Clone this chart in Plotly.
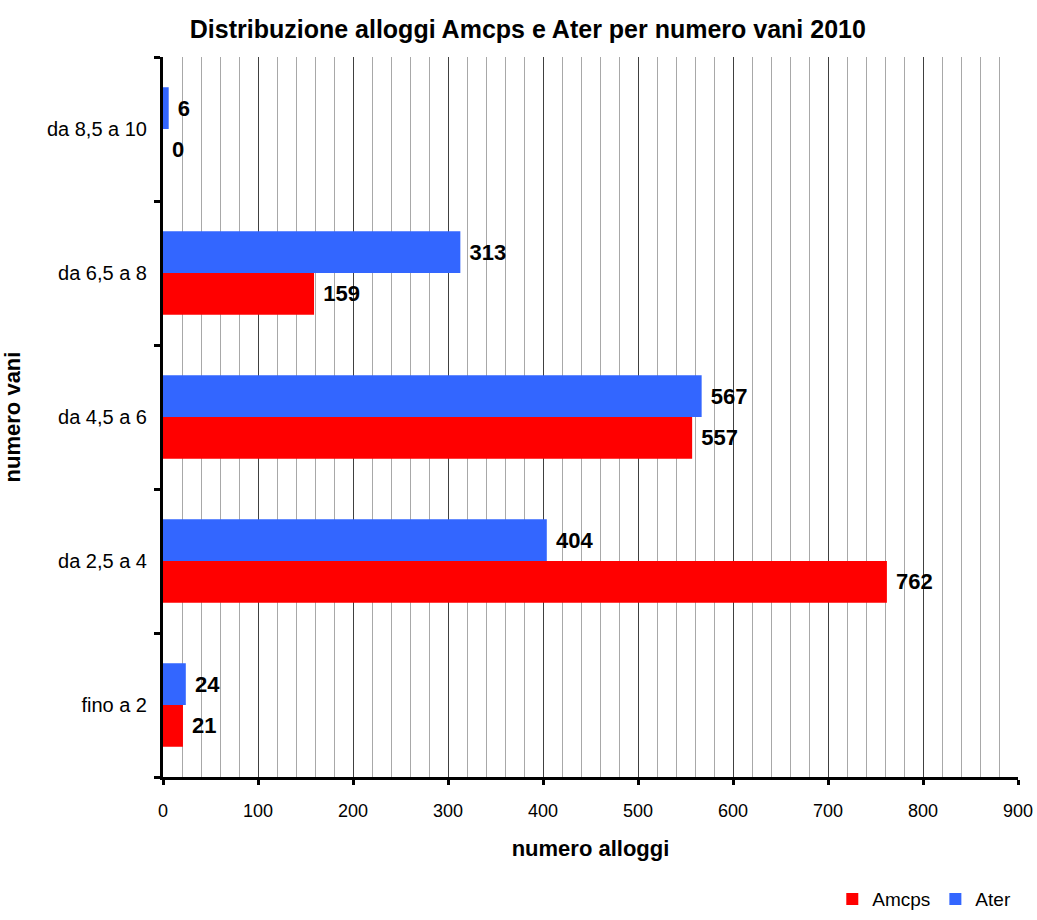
import plotly.graph_objects as go

categories = ["fino a 2", "da 2,5 a 4", "da 4,5 a 6", "da 6,5 a 8", "da 8,5 a 10"]
amcps = [21, 762, 557, 159, 0]
ater = [24, 404, 567, 313, 6]
x_ticks = [0, 100, 200, 300, 400, 500, 600, 700, 800, 900]

FONT = "Liberation Sans, Arial, sans-serif"

fig = go.Figure()
fig.add_trace(go.Bar(
    y=categories, x=amcps, name="Amcps", orientation="h",
    marker=dict(color="#FF0000", line=dict(width=0)),
    text=[" " + str(v) for v in amcps], textposition="outside", cliponaxis=False,
    textfont=dict(family=FONT, size=22, color="black", weight="bold"),
))
fig.add_trace(go.Bar(
    y=categories, x=ater, name="Ater", orientation="h",
    marker=dict(color="#3366FF", line=dict(width=0)),
    text=[" " + str(v) for v in ater], textposition="outside", cliponaxis=False,
    textfont=dict(family=FONT, size=22, color="black", weight="bold"),
))

fig.update_layout(
    width=1037, height=920,
    margin=dict(l=163, r=19, t=57, b=143, autoexpand=False),
    paper_bgcolor="white", plot_bgcolor="white",
    barmode="group", bargap=0.42, bargroupgap=0,
    font=dict(family=FONT, size=18, color="black"),
    title=dict(text="<b>Distribuzione alloggi Amcps e Ater per numero vani 2010</b>",
               x=0.509, xanchor="center", y=0.968, yanchor="middle",
               font=dict(family=FONT, size=25, color="black")),
    legend=dict(orientation="h", x=0.998, xanchor="right", y=-0.196, yanchor="bottom",
                font=dict(family=FONT, size=19), traceorder="normal",
                itemwidth=30, bgcolor="rgba(0,0,0,0)"),
    uniformtext=dict(mode=False),
)
fig.update_xaxes(
    range=[0, 900], tickvals=x_ticks, ticktext=[str(v) for v in x_ticks],
    showgrid=True, gridcolor="#404040", gridwidth=1,
    minor=dict(dtick=20, showgrid=True, gridcolor="#A8A8A8", gridwidth=1, ticks=""),
    showline=True, linecolor="black", linewidth=3,
    ticks="outside", ticklen=5, tickwidth=3, tickcolor="black",
    tickfont=dict(size=18), ticklabelstandoff=10,
    zeroline=False,
    title=dict(text="<b>numero alloggi</b>", font=dict(size=22), standoff=22),
)
fig.update_yaxes(
    categoryorder="array", categoryarray=categories,
    showgrid=False, showline=True, linecolor="black", linewidth=3,
    ticks="outside", ticklen=6, tickwidth=3, tickcolor="black", tickson="boundaries",
    tickfont=dict(size=20), ticklabelstandoff=9,
    title=dict(text="<b>numero vani</b>", font=dict(size=22), standoff=22),
)

fig.write_html("out.html",
               config={"displayModeBar": False},
               post_script="document.body.style.margin='0';document.body.style.overflow='hidden';")
